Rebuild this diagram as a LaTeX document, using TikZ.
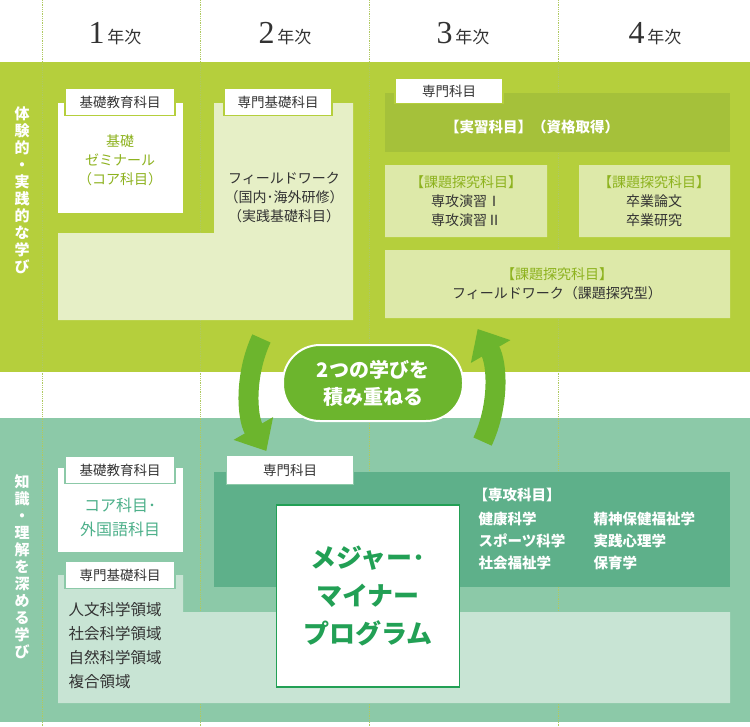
\documentclass[tikz,border=0pt]{standalone}
\usepackage{fontspec}
\setmainfont{Noto Sans CJK JP}
\newfontfamily\yearfont{Liberation Serif}
\usetikzlibrary{arrows.meta}
\definecolor{topband}{HTML}{B5CF3C}
\definecolor{topdark}{HTML}{A5C13A}
\definecolor{toplight}{HTML}{E6EFC6}
\definecolor{topbox}{HTML}{DDE9A9}
\definecolor{topgreen}{HTML}{8DB21E}
\definecolor{botband}{HTML}{8CC9A8}
\definecolor{botdark}{HTML}{5EB08A}
\definecolor{botlight}{HTML}{C8E4D4}
\definecolor{botgreen}{HTML}{22A055}
\definecolor{botteal}{HTML}{4DB08A}
\definecolor{pillgreen}{HTML}{6CB52D}
\definecolor{txt}{HTML}{333333}
\begin{document}
\begin{tikzpicture}[x=1pt,y=-1pt,
    tab/.style={draw=#1, line width=1.2pt, fill=white, text=txt, font=\fontsize{13.5}{15}\selectfont, minimum height=27pt, inner sep=0pt},
    desc/.style={text=txt, align=center, font=\fontsize{14}{19}\selectfont},
    side/.style={text=white, align=center, font=\bfseries\fontsize{15}{17}\selectfont},
    year/.style={text=txt, font=\fontsize{17}{19}\selectfont},
    cyc/.style={pillgreen, line width=20pt, -{Triangle[length=26pt,width=44pt]}}
  ]
  \useasboundingbox (0,0) rectangle (750,726);

  % Bands
  \fill[topband] (0,62) rectangle (750,372);
  \fill[botband] (0,418) rectangle (750,722);

  % Year grid
  \foreach \gx in {42,200,369,558}
    \draw[topgreen!70, densely dotted, line width=0.8pt] (\gx,0) -- (\gx,726);
  \node[year] (Year1) at (115,34) {{\yearfont\fontsize{32}{34}\selectfont 1}\,年次};
  \node[year] (Year2) at (285,34) {{\yearfont\fontsize{32}{34}\selectfont 2}\,年次};
  \node[year] (Year3) at (463,34) {{\yearfont\fontsize{32}{34}\selectfont 3}\,年次};
  \node[year] (Year4) at (655,34) {{\yearfont\fontsize{32}{34}\selectfont 4}\,年次};

  % Practical learning
  \node[side] (SideTop) at (22,190) {体\\験\\的\\・\\実\\践\\的\\な\\学\\び};
  \fill[white] (58,103) rectangle (183,213);
  \fill[toplight] (214,103) rectangle (353,320) (58,233) rectangle (353,320);
  \node[tab=topband, minimum width=110pt] (BasicTabA) at (120,102) {基礎教育科目};
  \node[tab=topband, minimum width=108pt] (MajorBasicTabA) at (278,102) {専門基礎科目};
  \node[desc, text=topgreen] (Seminar) at (120,160) {基礎\\ゼミナール\\（コア科目）};
  \node[desc] (FieldA) at (284,198) {フィールドワーク\\（国内･海外研修）\\（実践基礎科目）};

  \fill[topdark] (385,93) rectangle (730,152);
  \node[tab=topband, minimum width=108pt, minimum height=25pt] (MajorTabA) at (449,91) {専門科目};
  \node[text=white, font=\bfseries\fontsize{14.5}{16}\selectfont] (Practice) at (532,127) {【実習科目】（資格取得）};
  \fill[topbox] (385,165) rectangle (547,237) (579,165) rectangle (730,237) (385,250) rectangle (730,318);
  \node[desc] (Seminars) at (466,201) {{\color{topgreen}【課題探究科目】}\\専攻演習Ⅰ\\専攻演習Ⅱ};
  \node[desc] (Thesis) at (654,201) {{\color{topgreen}【課題探究科目】}\\卒業論文\\卒業研究};
  \node[desc] (FieldB) at (557,284) {{\color{topgreen}【課題探究科目】}\\フィールドワーク（課題探究型）};

  % Cycle
  \draw[cyc] (372,390) ++(205:122) arc[start angle=205, end angle=150, radius=122];
  \draw[cyc] (372,390) ++(25:122) arc[start angle=25, end angle=-30, radius=122];
  \node[draw=white, line width=2pt, fill=pillgreen, rounded corners=37pt, minimum width=180pt, minimum height=76pt,
        text=white, align=center, font=\bfseries\fontsize{20}{27}\selectfont] (Pill) at (373,383) {2つの学びを\\積み重ねる};

  % Knowledge learning
  \node[side] (SideBot) at (22,567) {知\\識\\・\\理\\解\\を\\深\\め\\る\\学\\び};
  \fill[white] (58,468) rectangle (183,552);
  \fill[botlight] (58,575) rectangle (183,703) (58,612) rectangle (730,703);
  \fill[botdark] (214,472) rectangle (730,587);
  \node[tab=botband, minimum width=110pt] (BasicTabB) at (120,470) {基礎教育科目};
  \node[tab=botband, minimum width=110pt] (MajorBasicTabB) at (120,575) {専門基礎科目};
  \node[tab=botband, minimum width=127pt, minimum height=29pt] (MajorTabB) at (290,470) {専門科目};
  \node[desc, text=botteal, font=\fontsize{16}{24}\selectfont] (Core) at (120,517) {コア科目･\\外国語科目};
  \node[desc, align=left, anchor=north west, font=\fontsize{15.5}{24}\selectfont] (Fields) at (65,599) {人文科学領域\\社会科学領域\\自然科学領域\\複合領域};
  \node[draw=botgreen, line width=1.5pt, fill=white, minimum width=183pt, minimum height=182pt,
        text=botgreen, align=center, font=\bfseries\fontsize{26}{38}\selectfont] (Program) at (368,596) {メジャー･\\マイナー\\プログラム};
  \node[text=white, anchor=west, font=\bfseries\fontsize{14.5}{16}\selectfont] (MajorSubj) at (470,495) {【専攻科目】};
  \node[text=white, anchor=north west, align=left, font=\bfseries\fontsize{14.5}{22}\selectfont] (ColA) at (475,508) {健康科学\\スポーツ科学\\社会福祉学};
  \node[text=white, anchor=north west, align=left, font=\bfseries\fontsize{14.5}{22}\selectfont] (ColB) at (590,508) {精神保健福祉学\\実践心理学\\保育学};
\end{tikzpicture}
\end{document}
